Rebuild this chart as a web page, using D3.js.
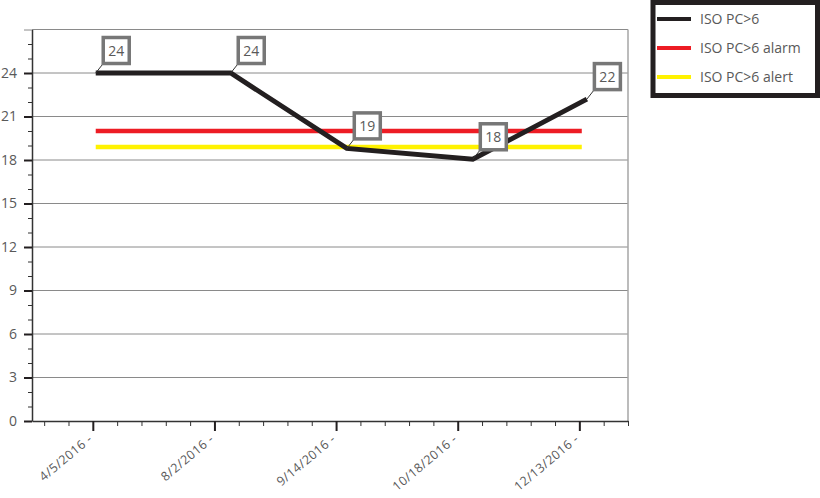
<!DOCTYPE html>
<html>
<head>
<meta charset="utf-8">
<script src="https://cdn.jsdelivr.net/npm/d3@7"></script>
<style>
  body { margin: 0; background: #fff; }
  svg { display: block; font-family: "Open Sans", sans-serif; }
</style>
</head>
<body>
<svg width="820" height="498"></svg>
<script>
// data
const categories = ["4/5/2016 -", "8/2/2016 -", "9/14/2016 -", "10/18/2016 -", "12/13/2016 -"];
const pointPos = [0.024, 1.134, 2.088, 3.124, 4.062];   // where each reading sits along the axis
const isoValues = [24, 24, 18.8, 18.05, 22.2];
const isoLabels = [24, 24, 19, 18, 22];
const alarmValue = 20;
const alertValue = 18.9;
const limitSpan = [0.024, 4.02];
const yTicks = [0, 3, 6, 9, 12, 15, 18, 21, 24];
const yTop = 27;
const seriesNames = ["ISO PC>6", "ISO PC>6 alarm", "ISO PC>6 alert"];
const seriesColors = ["#231f20", "#ed1c24", "#fff200"];

const svg = d3.select("svg");
const plotLeft = 32, plotRight = 628, plotTop = 29.5, plotBottom = 421;

const x = d3.scaleLinear().domain([-0.5, 4.4]).range([plotLeft, plotRight]);
const y = d3.scaleLinear().domain([0, yTop]).range([plotBottom, plotTop]);

// grid
svg.append("g").selectAll("line")
    .data(yTicks.slice(1).concat([yTop]))
    .enter().append("line")
    .attr("x1", plotLeft).attr("x2", plotRight)
    .attr("y1", d => y(d)).attr("y2", d => y(d))
    .attr("stroke", "#8a8a8a").attr("stroke-width", 1);

// right border
svg.append("line")
    .attr("x1", plotRight).attr("x2", plotRight).attr("y1", y(yTop)).attr("y2", plotBottom)
    .attr("stroke", "#a6a6a6").attr("stroke-width", 1.5);

// y axis, minor then major
const yMinor = d3.range(0, yTop).filter(v => v % 3 !== 0);
svg.append("g")
    .attr("transform", `translate(${plotLeft},0)`)
    .call(d3.axisLeft(y).tickValues(yMinor).tickSize(4).tickSizeOuter(0).tickFormat(""))
    .call(g => g.select(".domain").remove())
    .selectAll("line").attr("stroke", "#333");

const yAxis = svg.append("g")
    .attr("transform", `translate(${plotLeft},0)`)
    .call(d3.axisLeft(y).tickValues(yTicks.concat([yTop])).tickSize(8).tickSizeOuter(0).tickPadding(7)
        .tickFormat(d => d === yTop ? "" : d))
    .attr("font-family", "'Open Sans', sans-serif");
yAxis.select(".domain").attr("stroke", "#333").attr("stroke-width", 1.5);
yAxis.selectAll(".tick line").attr("stroke", "#231f20").attr("stroke-width", 2);
yAxis.selectAll(".tick").filter(d => d === yTop).select("line").attr("stroke", "#8a8a8a").attr("stroke-width", 1);
yAxis.selectAll("text").attr("fill", "#595959").style("font-size", "14px");

// x axis, minor then major
const xMinor = d3.range(-0.4, 4.41, 0.2).filter(v => Math.abs(v - Math.round(v)) > 0.01);
svg.append("g")
    .attr("transform", `translate(0,${plotBottom})`)
    .call(d3.axisBottom(x).tickValues(xMinor).tickSize(5).tickSizeOuter(0).tickFormat(""))
    .call(g => g.select(".domain").remove())
    .selectAll("line").attr("stroke", "#333");

const xAxis = svg.append("g")
    .attr("transform", `translate(0,${plotBottom})`)
    .call(d3.axisBottom(x).tickValues(d3.range(categories.length)).tickSize(10).tickSizeOuter(0)
        .tickFormat(i => categories[i]))
    .attr("font-family", "'Open Sans', sans-serif");
xAxis.select(".domain").attr("stroke", "#333").attr("stroke-width", 1.5);
xAxis.selectAll(".tick line").attr("stroke", "#231f20").attr("stroke-width", 2);
xAxis.selectAll("text")
    .attr("fill", "#595959")
    .style("font-size", "12.5px")
    .style("letter-spacing", "0.5px")
    .style("text-anchor", "end")
    .attr("x", 0).attr("y", 0).attr("dy", "0.35em")
    .attr("transform", "translate(-3,16) rotate(-40)");

// alarm / alert limits
[alarmValue, alertValue].forEach((v, i) => {
    svg.append("line")
        .attr("x1", x(limitSpan[0])).attr("x2", x(limitSpan[1]))
        .attr("y1", y(v)).attr("y2", y(v))
        .attr("stroke", seriesColors[i + 1]).attr("stroke-width", 4.5);
});

// ISO line
const points = isoValues.map((v, i) => ({ x: pointPos[i], v: v, label: isoLabels[i] }));
svg.append("path")
    .datum(points)
    .attr("fill", "none")
    .attr("stroke", seriesColors[0])
    .attr("stroke-width", 5)
    .attr("stroke-linejoin", "miter")
    .attr("d", d3.line().x(d => x(d.x)).y(d => y(d.v)));

// callout boxes
const box = 26, offX = 7.5, offY = -9.5;
const callouts = svg.append("g").selectAll("g")
    .data(points)
    .enter().append("g")
    .attr("transform", d => `translate(${x(d.x)},${y(d.v)})`);
callouts.append("line")
    .attr("x1", 0).attr("y1", 0).attr("x2", offX).attr("y2", offY)
    .attr("stroke", "#333").attr("stroke-width", 1);
callouts.append("rect")
    .attr("x", offX).attr("y", offY - box)
    .attr("width", box).attr("height", box)
    .attr("fill", "#fff").attr("stroke", "#777").attr("stroke-width", 3.5);
callouts.append("text")
    .attr("x", offX + box / 2).attr("y", offY - box / 2)
    .attr("dy", "0.36em")
    .attr("text-anchor", "middle")
    .attr("fill", "#595959")
    .style("font-size", "14px")
    .text(d => d.label);

// legend
const legend = svg.append("g");
legend.append("rect")
    .attr("x", 653).attr("y", 2.5).attr("width", 164.5).attr("height", 93)
    .attr("fill", "#fff").attr("stroke", "#231f20").attr("stroke-width", 5);
const items = legend.selectAll("g.item")
    .data(seriesNames)
    .enter().append("g")
    .attr("class", "item")
    .attr("transform", (d, i) => `translate(0,${19 + i * 29})`);
items.append("line")
    .attr("x1", 657).attr("x2", 691)
    .attr("stroke", (d, i) => seriesColors[i]).attr("stroke-width", 4);
items.append("text")
    .attr("x", 700).attr("dy", "0.35em")
    .attr("fill", "#595959")
    .style("font-size", "14px")
    .text(d => d);
</script>
</body>
</html>
